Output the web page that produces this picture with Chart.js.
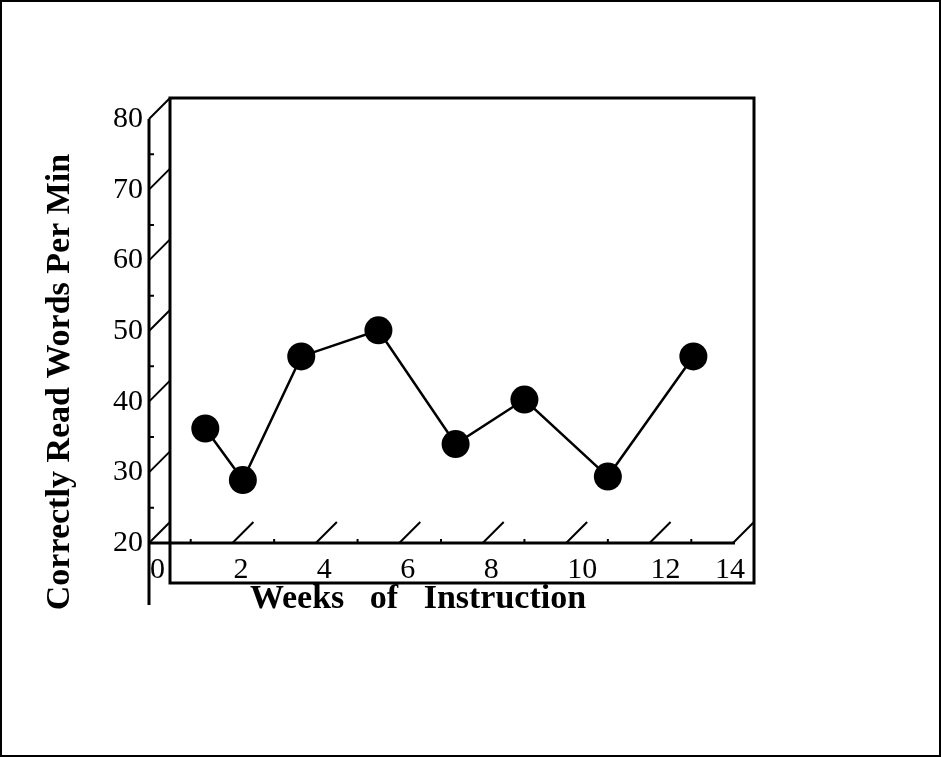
<!DOCTYPE html>
<html><head><meta charset="utf-8">
<script src="https://cdn.jsdelivr.net/npm/chart.js@4"></script>
<style>html,body{margin:0;padding:0;background:#fff;overflow:hidden}canvas{display:block}</style>
</head><body>
<canvas id="c" width="941" height="757"></canvas>
<script>
// ---- data ----
const weeks = [1.35, 2.25, 3.65, 5.5, 7.35, 9.0, 11.0, 13.05];
const wordsPerMin = [36.2, 28.9, 46.4, 50.1, 34.0, 40.3, 29.4, 46.4];
const yTickValues = [20, 30, 40, 50, 60, 70, 80];
const yMinorTicks = [25, 35, 45, 55, 65, 75];
const xTickValues = [0, 2, 4, 6, 8, 10, 12, 14];
const xMinorTicks = [1, 3, 5, 7, 9, 11, 13];
const xTitle = 'Weeks   of   Instruction';
const yTitle = 'Correctly Read Words Per Min';

const DEPTH = 21;
const decor = {
  id: 'decor',
  beforeDatasetsDraw(chart) {
    const ctx = chart.ctx, xs = chart.scales.x, ys = chart.scales.y;
    const x0 = xs.getPixelForValue(0), x14 = xs.getPixelForValue(14);
    const y20 = ys.getPixelForValue(20), y80 = ys.getPixelForValue(80);
    ctx.save();
    ctx.strokeStyle = '#000';
    ctx.lineCap = 'butt';
    // back wall
    ctx.lineWidth = 3;
    ctx.beginPath();
    ctx.rect(x0 + DEPTH, y80 - DEPTH, (x14 + DEPTH) - (x0 + DEPTH), (y20 + 40) - (y80 - DEPTH));
    ctx.stroke();
    // front axes
    ctx.beginPath();
    ctx.moveTo(x0, y80); ctx.lineTo(x0, y20 + 62);
    ctx.moveTo(x0, y20); ctx.lineTo(x14 + 2, y20);
    ctx.stroke();
    // diagonals
    ctx.lineWidth = 2;
    ctx.beginPath();
    yTickValues.forEach(v => { const p = ys.getPixelForValue(v); ctx.moveTo(x0, p); ctx.lineTo(x0 + DEPTH, p - DEPTH); });
    xTickValues.forEach(v => { const p = xs.getPixelForValue(v); ctx.moveTo(p, y20); ctx.lineTo(p + DEPTH, y20 - DEPTH); });
    // minor ticks
    yMinorTicks.forEach(v => { const p = ys.getPixelForValue(v); ctx.moveTo(x0, p); ctx.lineTo(x0 + 5, p); });
    xMinorTicks.forEach(v => { const p = xs.getPixelForValue(v); ctx.moveTo(p, y20); ctx.lineTo(p, y20 - 4); });
    ctx.stroke();
    // x tick labels
    ctx.fillStyle = '#000';
    ctx.font = '30px "Liberation Serif"';
    ctx.textAlign = 'left';
    ctx.textBaseline = 'alphabetic';
    const wallRight = x14 + DEPTH;
    xTickValues.forEach(v => {
      const p = xs.getPixelForValue(v);
      const t = String(v);
      const w = ctx.measureText(t).width;
      ctx.fillText(t, Math.min(p + 1, wallRight - 9 - w), y20 + 35);
    });
    ctx.restore();
  },
  afterDraw(chart) {
    const ctx = chart.ctx, xs = chart.scales.x, ys = chart.scales.y;
    ctx.save();
    ctx.strokeStyle = '#000';
    ctx.lineWidth = 2;
    ctx.strokeRect(1, 1, chart.width - 2, chart.height - 2);
    ctx.fillStyle = '#000';
    ctx.font = 'bold 34px "Liberation Serif"';
    ctx.textAlign = 'center';
    ctx.textBaseline = 'alphabetic';
    ctx.fillText(xTitle, 418, ys.getPixelForValue(20) + 65);
    ctx.translate(69, 382);
    ctx.rotate(-Math.PI / 2);
    ctx.font = 'bold 34px "Liberation Serif"';
    ctx.fillText(yTitle, 0, 0);
    ctx.restore();
  }
};

new Chart(document.getElementById('c'), {
  type: 'line',
  data: {
    datasets: [{
      data: weeks.map((w, i) => ({ x: w, y: wordsPerMin[i] })),
      borderColor: '#000',
      borderWidth: 2.5,
      pointRadius: 14,
      pointHoverRadius: 14,
      pointBackgroundColor: '#000',
      pointBorderColor: '#000',
      pointBorderWidth: 0,
      tension: 0,
      clip: false
    }]
  },
  options: {
    responsive: false,
    animation: false,
    events: [],
    layout: { padding: { top: 119, right: 208, bottom: 214, left: 0 } },
    plugins: { legend: { display: false }, tooltip: { enabled: false }, title: { display: false } },
    scales: {
      x: { type: 'linear', min: 0, max: 14, display: false },
      y: {
        type: 'linear', min: 20, max: 80,
        afterFit(s) { s.width = 149; },
        grid: { display: false, drawTicks: false },
        border: { display: false },
        ticks: { stepSize: 10, color: '#000', padding: 6, font: { family: 'Liberation Serif', size: 30 } }
      }
    }
  },
  plugins: [decor]
});
</script>
</body></html>
